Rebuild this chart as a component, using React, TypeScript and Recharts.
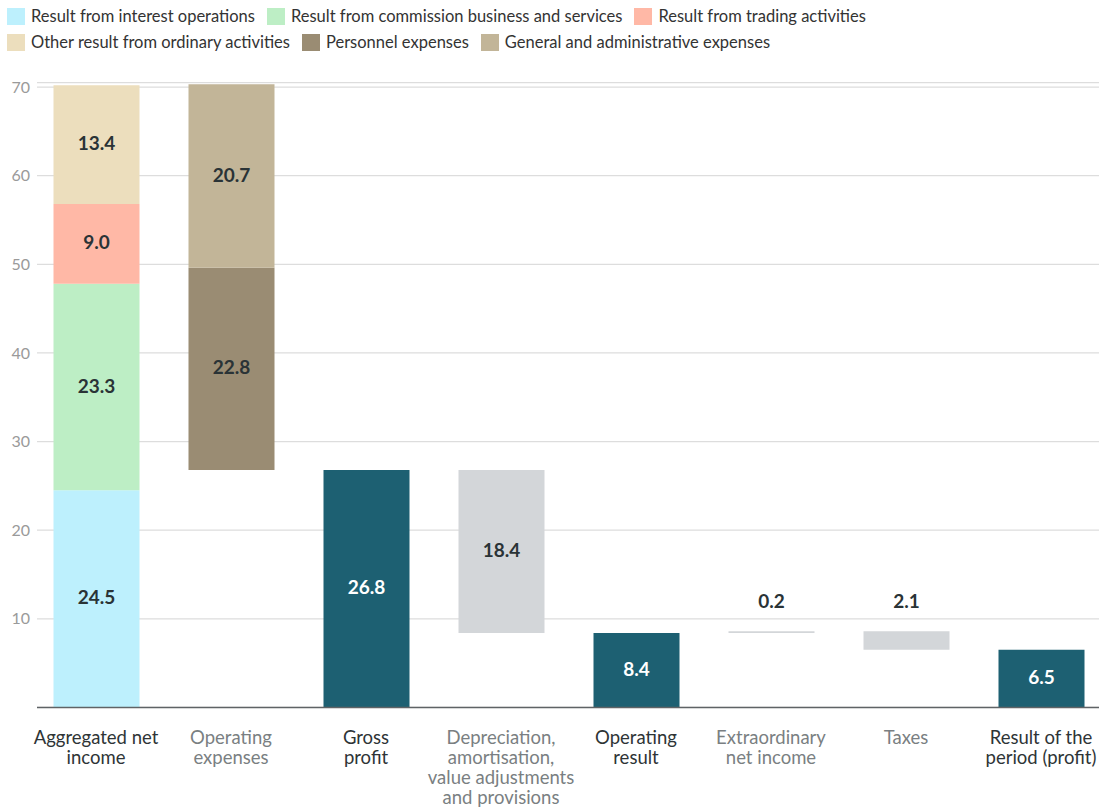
import { BarChart, Bar, XAxis, YAxis, CartesianGrid, LabelList } from "recharts";

// category labels, already broken into lines as in the printed chart
const categoryLines = [
  ["Aggregated net", "income"],
  ["Operating", "expenses"],
  ["Gross", "profit"],
  ["Depreciation,", "amortisation,", "value adjustments", "and provisions"],
  ["Operating", "result"],
  ["Extraordinary", "net income"],
  ["Taxes"],
  ["Result of the", "period (profit)"],
];
const stepKinds = ["sum", "change", "sum", "change", "sum", "change", "change", "sum"];

// invisible offset for the floating waterfall steps
const baseValues = [0, 26.8, 0, 8.4, 0, 8.4, 6.5, 0];
const interestValues = [24.5, 0, 0, 0, 0, 0, 0, 0];
const commissionValues = [23.3, 0, 0, 0, 0, 0, 0, 0];
const tradingValues = [9.0, 0, 0, 0, 0, 0, 0, 0];
const otherValues = [13.4, 0, 0, 0, 0, 0, 0, 0];
const personnelValues = [0, 22.8, 0, 0, 0, 0, 0, 0];
const generalValues = [0, 20.7, 0, 0, 0, 0, 0, 0];
const totalValues = [0, 0, 26.8, 0, 8.4, 0, 0, 6.5];
const changeValues = [0, 0, 0, 18.4, 0, 0.2, 2.1, 0];

const yTicks = [10, 20, 30, 40, 50, 60, 70];

const FONT = "Lato, 'Open Sans', sans-serif";

const series = [
  { key: "interest", name: "Result from interest operations", color: "#bdf0fd", text: "#2a3336", legend: true },
  { key: "commission", name: "Result from commission business and services", color: "#bdeec5", text: "#2a3336", legend: true },
  { key: "trading", name: "Result from trading activities", color: "#ffb8a6", text: "#2a3336", legend: true },
  { key: "other", name: "Other result from ordinary activities", color: "#ecdebd", text: "#2a3336", legend: true },
  { key: "personnel", name: "Personnel expenses", color: "#9a8c73", text: "#2a3336", legend: true },
  { key: "general", name: "General and administrative expenses", color: "#c2b598", text: "#2a3336", legend: true },
  { key: "total", name: "Total", color: "#1d6072", text: "#ffffff", legend: false },
  { key: "change", name: "Change", color: "#d3d6d9", text: "#2a3336", legend: false },
];

const data = categoryLines.map((lines, i) => ({
  name: lines.join(" "),
  base: baseValues[i],
  interest: interestValues[i],
  commission: commissionValues[i],
  trading: tradingValues[i],
  other: otherValues[i],
  personnel: personnelValues[i],
  general: generalValues[i],
  total: totalValues[i],
  change: changeValues[i],
}));

function CategoryTick(props: any) {
  const { x, y, payload } = props;
  const i = payload.index;
  const lines = categoryLines[i] || [];
  const color = stepKinds[i] === "sum" ? "#2e3436" : "#7a7f82";
  return (
    <text x={x} y={y} textAnchor="middle" fill={color} fontSize={18.5} fontFamily={FONT}>
      {lines.map((l, k) => (
        <tspan key={k} x={x} y={y + 28 + k * 20} dominantBaseline="central">
          {l}
        </tspan>
      ))}
    </text>
  );
}

function makeLabel(textColor: string) {
  return (props: any) => {
    const { x, y, width, height, value } = props;
    if (!value) return null;
    const small = Math.abs(height) < 30;
    const cy = small ? y - 31 : y + height / 2 - 2;
    return (
      <text
        x={x + width / 2}
        y={cy}
        textAnchor="middle"
        dominantBaseline="central"
        fill={textColor}
        fontSize={19}
        fontWeight={700}
        fontFamily={FONT}
      >
        {Number(value).toFixed(1)}
      </text>
    );
  };
}

function LegendBlock() {
  const items = series.filter((s) => s.legend);
  const rows = [items.slice(0, 3), items.slice(3)];
  return (
    <div style={{ position: "absolute", left: 7, top: 3, fontFamily: FONT, fontSize: 16.5, color: "#333" }}>
      {rows.map((row, r) => (
        <div key={r} style={{ display: "flex", alignItems: "center", height: 26 }}>
          {row.map((s) => (
            <div key={s.key} style={{ display: "flex", alignItems: "center", marginRight: 12 }}>
              <span style={{ width: 18, height: 17, background: s.color, marginRight: 6, display: "inline-block" }} />
              <span>{s.name}</span>
            </div>
          ))}
        </div>
      ))}
    </div>
  );
}

export default function App() {
  return (
    <div style={{ position: "absolute", left: 0, top: 0, width: 1099, height: 808, background: "#fff" }}>
      <LegendBlock />
      <BarChart
        width={1099}
        height={808}
        data={data}
        barSize={86}
        margin={{ top: 82.6, right: 0, bottom: 70.6, left: 0 }}
      >
        <CartesianGrid vertical={false} stroke="#dddddd" strokeWidth={1.2} />
        <XAxis
          dataKey="name"
          interval={0}
          height={30}
          tickLine={false}
          tickSize={0}
          padding={{ left: -8.5, right: -9.5 }}
          axisLine={{ stroke: "#5f6366", strokeWidth: 1.5 }}
          tick={<CategoryTick />}
        />
        <YAxis
          width={37}
          domain={[0, 70.5]}
          ticks={yTicks}
          allowDataOverflow
          axisLine={false}
          tickLine={false}
          tickSize={0}
          tickMargin={7}
          tick={{ fill: "#9a9a9a", fontSize: 16, fontFamily: FONT }}
        />
        <Bar dataKey="base" stackId="a" fill="transparent" isAnimationActive={false} />
        {series.map((s) => (
          <Bar key={s.key} dataKey={s.key} name={s.name} stackId="a" fill={s.color} isAnimationActive={false}>
            <LabelList dataKey={s.key} content={makeLabel(s.text)} />
          </Bar>
        ))}
      </BarChart>
    </div>
  );
}
